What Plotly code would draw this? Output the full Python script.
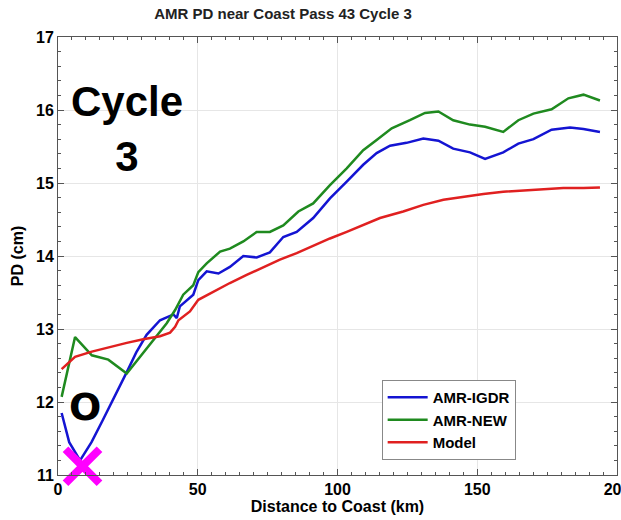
import plotly.graph_objects as go

igdr_x = [1.3, 4, 7.9, 12, 16, 20, 24.6, 28, 31.7, 36.5, 41.3, 42.5, 43.6, 48.4, 50.2, 53.2, 57.4, 61.5, 66.3, 71.1, 75.8, 80.6, 85.4, 91.3, 97.3, 103.3, 109.2, 114, 118.8, 124.7, 130.7, 136.1, 141.4, 147.4, 152.8, 159.3, 164.7, 170.1, 176.6, 183.2, 188, 193.9]
igdr_y = [11.85, 11.45, 11.2, 11.45, 11.75, 12.05, 12.41, 12.68, 12.92, 13.12, 13.2, 13.15, 13.31, 13.47, 13.67, 13.79, 13.76, 13.85, 14.0, 13.98, 14.05, 14.26, 14.33, 14.52, 14.79, 15.02, 15.25, 15.41, 15.51, 15.55, 15.61, 15.58, 15.47, 15.42, 15.33, 15.42, 15.54, 15.6, 15.73, 15.76, 15.74, 15.70]

new_x = [1.3, 6.1, 12.1, 18, 24.6, 29.3, 34.1, 38.9, 41.9, 44.8, 48.4, 50.2, 53.2, 58, 61.5, 66.3, 71.1, 75.8, 80.6, 86, 91.3, 97.3, 103.3, 109.2, 114, 119.4, 125.9, 131.3, 136.1, 141.4, 147.4, 152.8, 159.3, 164.7, 170.1, 176.6, 182.6, 188, 193.9]
new_y = [12.07, 12.89, 12.64, 12.58, 12.39, 12.62, 12.85, 13.08, 13.26, 13.47, 13.6, 13.78, 13.9, 14.06, 14.1, 14.2, 14.33, 14.33, 14.42, 14.61, 14.72, 14.97, 15.2, 15.45, 15.59, 15.75, 15.86, 15.96, 15.98, 15.86, 15.8, 15.77, 15.7, 15.86, 15.95, 16.01, 16.16, 16.21, 16.13]

model_x = [1.3, 6.1, 12.1, 18, 24.6, 30.5, 36.5, 40.1, 41.9, 43.1, 47.2, 50.2, 55.6, 61.5, 67.5, 73.5, 79.4, 85.4, 91.3, 97.3, 103.3, 109.2, 115.2, 123.5, 130.7, 137.9, 145, 152.2, 159.3, 166.5, 173.6, 180.8, 188, 193.9]
model_y = [12.45, 12.62, 12.69, 12.75, 12.81, 12.86, 12.9, 12.95, 13.03, 13.12, 13.24, 13.4, 13.51, 13.63, 13.74, 13.85, 13.95, 14.04, 14.14, 14.24, 14.33, 14.42, 14.52, 14.61, 14.7, 14.77, 14.81, 14.85, 14.88, 14.9, 14.92, 14.93, 14.93, 14.94]

x_marker = [8.77]
y_marker = [11.12]

FONT = "Liberation Sans, Arial, sans-serif"

fig = go.Figure()
fig.add_trace(go.Scatter(x=igdr_x, y=igdr_y, mode="lines", name="AMR-IGDR",
                         line=dict(color="#1414d2", width=2.5)))
fig.add_trace(go.Scatter(x=new_x, y=new_y, mode="lines", name="AMR-NEW",
                         line=dict(color="#1f8a1f", width=2.5)))
fig.add_trace(go.Scatter(x=model_x, y=model_y, mode="lines", name="Model",
                         line=dict(color="#e02020", width=2.5)))
fig.add_trace(go.Scatter(x=x_marker, y=y_marker, mode="markers", showlegend=False,
                         cliponaxis=False, hoverinfo="skip",
                         marker=dict(symbol="x-thin", size=34,
                                     line=dict(color="#ff00ff", width=8))))

axis_common = dict(
    showline=True, linecolor="#555555", linewidth=1, mirror="ticks",
    ticks="inside", ticklen=6, tickcolor="#555555",
    showgrid=True, gridcolor="#e6e6e6", gridwidth=1, zeroline=False,
    ticklabeloverflow="allow", automargin=False,
    tickfont=dict(family=FONT, size=16, color="black", weight="bold"),
)

fig.update_xaxes(range=[0, 200], dtick=50, tick0=0,
                 minor=dict(dtick=5, ticks="inside", ticklen=3, tickcolor="#555555", showgrid=False),
                 title=dict(text="Distance to Coast (km)", standoff=2,
                            font=dict(family=FONT, size=16, color="black", weight="bold")),
                 **axis_common)
fig.update_yaxes(range=[11, 17], dtick=1, tick0=11,
                 minor=dict(dtick=0.2, ticks="inside", ticklen=3, tickcolor="#555555", showgrid=False),
                 title=dict(text="PD (cm)", standoff=8,
                            font=dict(family=FONT, size=16, color="black", weight="bold")),
                 **axis_common)

fig.add_annotation(x=24.7, y=15.74, xref="x", yref="y", text="Cycle<br>3", showarrow=False,
                   font=dict(family=FONT, size=42, color="black", weight="bold"), align="center")
fig.add_annotation(x=9.66, y=11.93, xref="x", yref="y", text="O", showarrow=False,
                   font=dict(family="DejaVu Sans, " + FONT, size=38, color="black", weight="bold"))

fig.update_layout(
    width=621, height=520,
    margin=dict(l=58, r=4, t=37, b=45),
    paper_bgcolor="white", plot_bgcolor="white",
    title=dict(text="AMR PD near Coast Pass 43 Cycle 3", x=0.4025, xref="paper", xanchor="center",
               y=0.973, yref="container", yanchor="middle",
               font=dict(family=FONT, size=15, color="#222222", weight="bold")),
    legend=dict(x=0.579, y=0.217, xanchor="left", yanchor="top",
                bgcolor="white", bordercolor="#888888", borderwidth=1,
                font=dict(family=FONT, size=15, color="black", weight="bold"),
                tracegroupgap=0, itemwidth=40),
    showlegend=True,
)

fig.write_html("out.html")
